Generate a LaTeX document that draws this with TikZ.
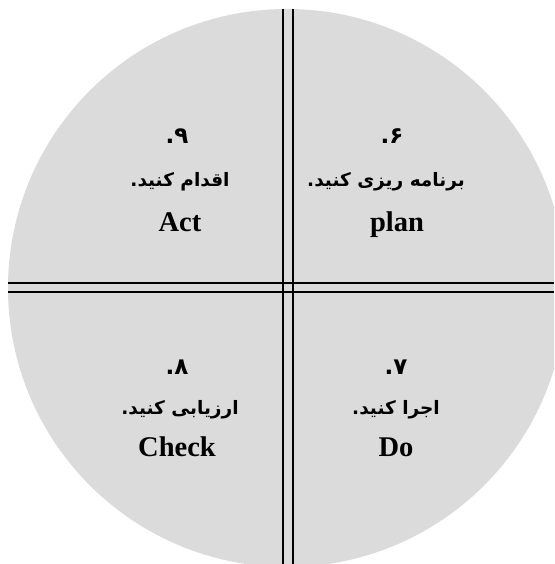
\documentclass[tikz,border=0pt]{standalone}
\usepackage{fontspec}
\setmainfont{Liberation Serif}
\newfontfamily\arabicfont[Script=Arabic]{DejaVu Sans}
\TeXXeTstate=1
\begin{document}
\begin{tikzpicture}[x=1pt,y=-1pt,
  latin/.style={anchor=base,inner sep=0pt,font=\fontsize{28.5}{30}\selectfont\bfseries},
  fa/.style={anchor=center,inner sep=0pt,font=\arabicfont\bfseries\fontsize{18.5}{24}\selectfont},
  num/.style={anchor=center,inner sep=0pt,font=\arabicfont\bfseries\fontsize{23}{26}\selectfont},
  sep/.style={line width=2.2pt,black}]
\useasboundingbox (0,0) rectangle (554,564);
\clip (0,0) rectangle (554,564);
\fill[black!14] (287,288) circle (279);
% double dividing lines
\coordinate (vt1) at (283,9);  \coordinate (vb1) at (283,564);
\coordinate (vt2) at (293,9);  \coordinate (vb2) at (293,564);
\coordinate (hl1) at (8,283);  \coordinate (hr1) at (554,283);
\coordinate (hl2) at (8,292);  \coordinate (hr2) at (554,292);
\draw[sep] (vt1) -- (vb1);
\draw[sep] (vt2) -- (vb2);
\draw[sep] (hl1) -- (hr1);
\draw[sep] (hl2) -- (hr2);
% top left
\node[num] (n9) at (177,136) {\beginR ۹.\endR};
\node[fa] (f9) at (180,182) {\beginR اقدام کنید.\endR};
\node[latin] (act) at (180,231) {Act};
% top right
\node[num] (n6) at (392,136) {\beginR ۶.\endR};
\node[fa] (f6) at (386,182) {\beginR برنامه ریزی کنید.\endR};
\node[latin] (plan) at (397,231) {plan};
% bottom left
\node[num] (n8) at (177,367) {\beginR ۸.\endR};
\node[fa] (f8) at (180,410) {\beginR ارزیابی کنید.\endR};
\node[latin] (check) at (177,456) {Check};
% bottom right
\node[num] (n7) at (396,367) {\beginR ۷.\endR};
\node[fa] (f7) at (396,410) {\beginR اجرا کنید.\endR};
\node[latin] (do) at (396,456) {Do};
\end{tikzpicture}
\end{document}
